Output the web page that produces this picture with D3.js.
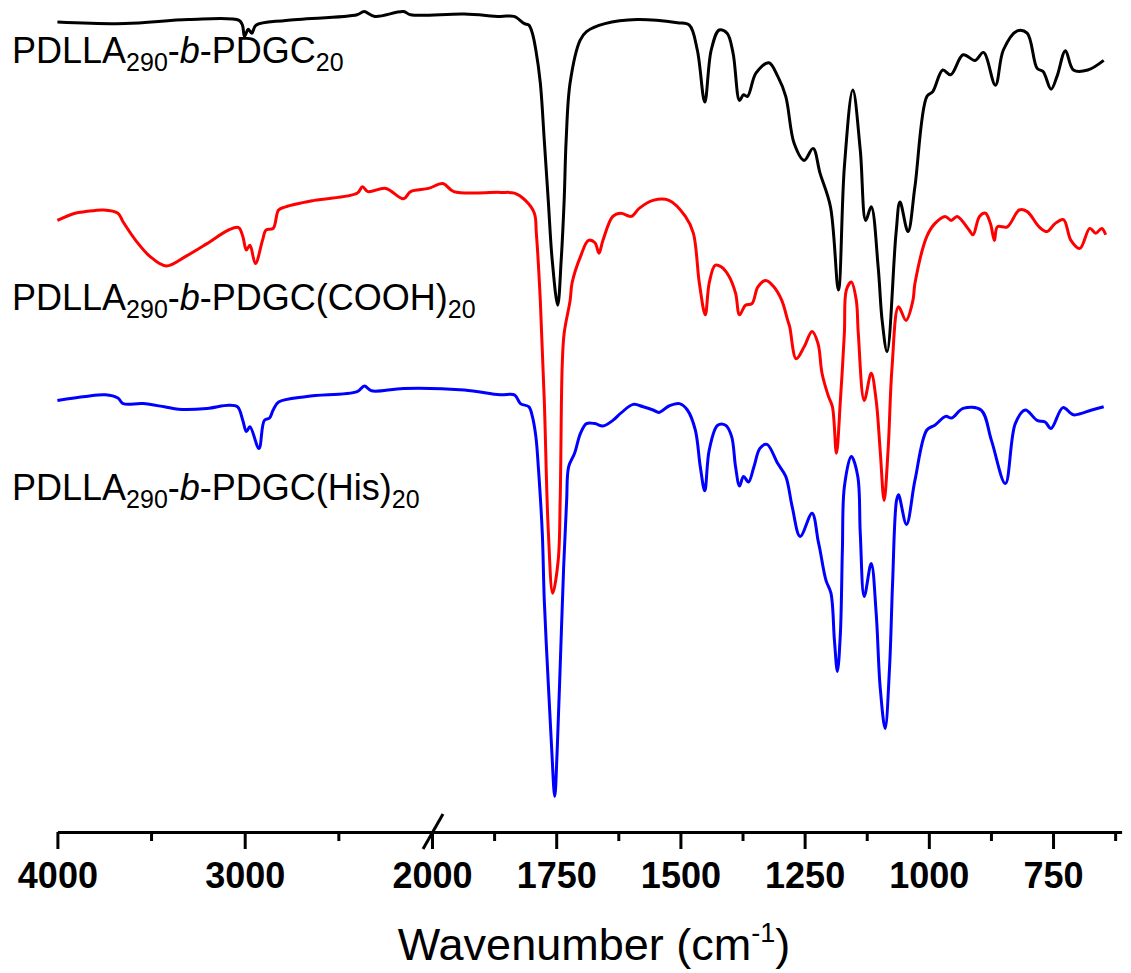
<!DOCTYPE html>
<html>
<head>
<meta charset="utf-8">
<script src="https://cdn.jsdelivr.net/npm/d3@7"></script>
<style>
  body { margin: 0; background: #fff; }
  svg { display: block; font-family: Arial, "Liberation Sans", sans-serif; }
</style>
</head>
<body>
<div class="canvas"></div>
<script>
// spectra: [wavenumber (cm-1), transmittance (a.u., stacked)]
const pdgc = [
  [4000,101.0],[3640,100.8],[3300,101.3],[3030,101.2],[3012,100.6],[3001,99.2],[2981,100.1],[2962,99.6],
  [2940,100.6],[2780,101.2],[2400,101.9],[2363,102.3],[2305,101.7],[2152,102.3],[2114,101.9],[1935,102.0],
  [1863,101.7],[1835,101.7],[1814,100.8],[1805,100.6],[1798,99.6],[1791,97.5],[1782,93.4],[1774,86.2],
  [1766,78.7],[1758,71.2],[1747,65.6],[1740,71.2],[1734,78.7],[1730,86.2],[1722,93.4],[1702,98.7],
  [1689,99.8],[1652,100.8],[1587,101.3],[1506,100.9],[1482,100.6],[1466,97.5],[1451,91.0],[1438,97.5],
  [1422,100.0],[1406,99.6],[1394,97.1],[1381,91.2],[1373,91.9],[1365,91.7],[1348,94.6],[1322,95.9],
  [1304,94.2],[1288,91.7],[1271,85.8],[1251,83.7],[1233,85.2],[1219,82.1],[1198,77.9],[1182,67.5],
  [1170,82.9],[1153,92.5],[1138,85.0],[1127,76.2],[1116,77.9],[1102,70.4],[1094,63.7],[1084,59.8],
  [1066,74.6],[1058,78.5],[1042,74.8],[1028,80.4],[1004,91.7],[992,92.3],[972,95.0],[956,94.4],
  [931,96.9],[907,96.2],[890,97.2],[866,93.1],[850,97.5],[822,99.9],[802,99.6],[782,95.2],
  [770,94.8],[754,92.6],[742,94.2],[725,97.4],[709,95.0],[680,95.0],[648,96.2]
];

const pdgcCooh = [
  [4000,76.2],[3906,77.1],[3849,77.3],[3753,77.5],[3677,77.1],[3649,76.0],[3582,73.7],[3506,71.7],
  [3420,70.5],[3315,71.7],[3201,73.3],[3086,75.0],[3033,75.3],[3010,74.2],[2991,72.5],[2972,73.1],
  [2943,70.8],[2905,73.7],[2886,75.0],[2848,75.2],[2819,77.5],[2781,77.9],[2628,78.7],[2400,79.6],
  [2371,80.4],[2342,79.8],[2247,80.2],[2152,78.9],[2114,79.8],[2018,80.2],[1978,80.8],[1956,79.8],
  [1863,79.7],[1834,79.6],[1812,78.7],[1794,77.1],[1790,74.6],[1782,66.2],[1774,53.7],[1766,37.5],
  [1757,29.6],[1746,33.7],[1742,41.2],[1738,57.9],[1734,62.1],[1722,66.2],[1718,68.4],[1701,71.7],
  [1685,73.7],[1672,73.4],[1664,72.1],[1656,73.7],[1636,76.7],[1620,77.1],[1599,76.7],[1583,77.7],
  [1555,78.7],[1523,78.7],[1490,76.7],[1474,74.6],[1462,68.4],[1450,64.4],[1442,68.4],[1430,70.6],
  [1418,70.4],[1402,69.2],[1389,67.1],[1381,64.4],[1369,65.6],[1356,65.8],[1344,67.9],[1328,68.7],
  [1312,67.9],[1296,66.2],[1284,63.7],[1280,62.9],[1267,58.9],[1251,60.4],[1235,62.3],[1223,60.8],
  [1215,57.1],[1202,54.2],[1194,52.9],[1186,47.1],[1178,53.7],[1170,62.1],[1166,67.5],[1156,68.5],
  [1146,66.2],[1142,62.1],[1130,53.7],[1116,57.1],[1106,53.7],[1098,47.5],[1090,41.2],[1082,47.5],
  [1074,57.9],[1061,65.4],[1046,63.7],[1032,66.2],[1028,68.3],[1004,74.2],[988,75.8],[967,76.7],
  [955,76.2],[943,76.7],[919,75.0],[911,74.4],[898,76.7],[886,77.1],[876,75.8],[868,73.7],
  [862,75.4],[842,75.4],[818,77.5],[802,77.3],[778,75.4],[762,74.8],[746,75.8],[729,76.3],
  [714,73.7],[696,72.7],[676,75.2],[664,74.6],[652,75.2],[644,74.4]
];

const pdgcHis = [
  [4000,53.7],[3849,54.2],[3744,54.4],[3677,54.0],[3649,53.3],[3544,53.3],[3429,52.9],[3353,52.6],
  [3201,52.7],[3086,53.1],[3038,52.9],[3010,51.2],[2991,49.8],[2972,50.4],[2924,47.7],[2895,51.2],
  [2867,51.5],[2848,52.5],[2819,53.5],[2667,54.2],[2400,54.8],[2361,55.5],[2323,54.9],[2152,55.2],
  [1935,55.0],[1863,54.4],[1834,54.4],[1822,53.3],[1805,52.9],[1798,51.7],[1791,49.2],[1786,45.4],
  [1778,37.1],[1774,28.7],[1766,18.4],[1759,10.0],[1753,4.2],[1748,10.0],[1742,20.4],[1735,32.9],
  [1729,41.2],[1725,45.4],[1713,47.1],[1701,49.6],[1689,50.8],[1672,50.8],[1656,50.5],[1636,51.2],
  [1620,52.1],[1595,53.2],[1575,52.9],[1555,52.5],[1543,52.2],[1523,53.0],[1502,53.3],[1486,52.5],
  [1470,50.0],[1460,45.4],[1451,42.4],[1442,47.5],[1425,50.6],[1409,50.6],[1397,49.2],[1389,45.4],
  [1381,43.0],[1373,44.2],[1363,43.5],[1352,45.4],[1340,47.7],[1326,48.2],[1304,45.8],[1288,44.2],
  [1275,40.4],[1259,36.7],[1235,39.6],[1223,36.2],[1219,35.0],[1207,31.2],[1197,29.6],[1190,23.7],
  [1184,19.8],[1178,24.6],[1174,35.0],[1170,42.9],[1156,46.7],[1143,44.2],[1138,37.1],[1130,29.2],
  [1116,33.3],[1106,27.1],[1098,17.9],[1088,12.7],[1079,20.4],[1073,30.8],[1065,41.2],[1061,41.9],
  [1045,38.2],[1028,43.7],[1004,50.0],[988,50.6],[966,51.7],[954,51.5],[931,52.7],[895,52.5],
  [874,48.7],[846,43.3],[826,50.8],[806,52.5],[782,51.2],[766,51.0],[754,50.2],[730,52.8],
  [709,51.9],[672,52.5],[648,52.9]
];

const seriesColors = ['#0000ff', '#ff0000', '#000000'];
const seriesData = [pdgcHis, pdgcCooh, pdgc];

// label text pieces: [text, style]  (s = subscript, i = italic)
const labelParts = [
  [['PDLLA',''],['290','s'],['-',''],['b','i'],['-PDGC',''],['20','s']],
  [['PDLLA',''],['290','s'],['-',''],['b','i'],['-PDGC(COOH)',''],['20','s']],
  [['PDLLA',''],['290','s'],['-',''],['b','i'],['-PDGC(His)',''],['20','s']]
];
const labelY = [63, 310, 500];

const majorTicks = [4000, 3000, 2000, 1750, 1500, 1250, 1000, 750];
const minorTicks = [3500, 2500, 1875, 1625, 1375, 1125, 875, 625];

// graph setup
const dims = { width: 1131, height: 973 };
const axisY = 832;

const svg = d3.select('.canvas')
  .append('svg')
  .attr('width', dims.width)
  .attr('height', dims.height);

// broken x axis: 4000-2000 compressed, 2000-612 expanded
const x = d3.scaleLinear()
  .domain([4000, 2000, 612])
  .range([57.4, 432, 1121.6]);

const y = d3.scaleLinear()
  .domain([0, 100])
  .range([830, 30]);

const line = d3.line()
  .x(d => x(d[0]))
  .y(d => y(d[1]))
  .curve(d3.curveCatmullRom.alpha(0.5));

// spectra
svg.selectAll('.spectrum')
  .data(seriesData)
  .enter()
  .append('path')
    .attr('class', 'spectrum')
    .attr('fill', 'none')
    .attr('stroke', (d, i) => seriesColors[i])
    .attr('stroke-width', 3)
    .attr('stroke-linejoin', 'round')
    .attr('d', line);

// x axis, major ticks
const xAxis = d3.axisBottom(x)
  .tickValues(majorTicks)
  .tickFormat(d3.format('d'))
  .tickSize(17)
  .tickSizeOuter(0);

const gx = svg.append('g')
  .attr('transform', `translate(0,${axisY})`)
  .call(xAxis);

gx.attr('font-family', null).attr('font-size', null);
gx.select('.domain').attr('stroke-width', 3);
gx.selectAll('.tick line').attr('stroke-width', 3);
gx.selectAll('.tick text')
  .attr('y', 56)
  .attr('dy', 0)
  .attr('font-size', 36)
  .attr('font-weight', 'bold');

// minor ticks
const gMinor = svg.append('g')
  .attr('transform', `translate(0,${axisY})`)
  .call(d3.axisBottom(x).tickValues(minorTicks).tickFormat('').tickSize(9).tickSizeOuter(0));
gMinor.select('.domain').remove();
gMinor.selectAll('.tick line').attr('stroke-width', 3);

// axis break mark at 2000
svg.append('line')
  .attr('x1', x(2000) - 9).attr('y1', axisY + 17)
  .attr('x2', x(2000) + 11).attr('y2', axisY - 18)
  .attr('stroke', '#000')
  .attr('stroke-width', 3);

// axis title
const title = svg.append('text')
  .attr('x', 594)
  .attr('y', 960)
  .attr('text-anchor', 'middle')
  .attr('font-size', 45);
title.append('tspan').text('Wavenumber (cm');
title.append('tspan').attr('font-size', 27).attr('dy', -18).text('-1');
title.append('tspan').attr('dy', 18).text(')');

// series labels
labelParts.forEach((parts, i) => {
  const t = svg.append('text')
    .attr('x', 12)
    .attr('y', labelY[i])
    .attr('font-size', 36);
  let shifted = false;
  parts.forEach(p => {
    const ts = t.append('tspan').text(p[0]);
    if (p[1] === 's') {
      ts.attr('font-size', 25).attr('dy', 8);
      shifted = true;
    } else {
      if (shifted) { ts.attr('dy', -8); shifted = false; }
      if (p[1] === 'i') ts.attr('font-style', 'italic');
    }
  });
});
</script>
</body>
</html>
